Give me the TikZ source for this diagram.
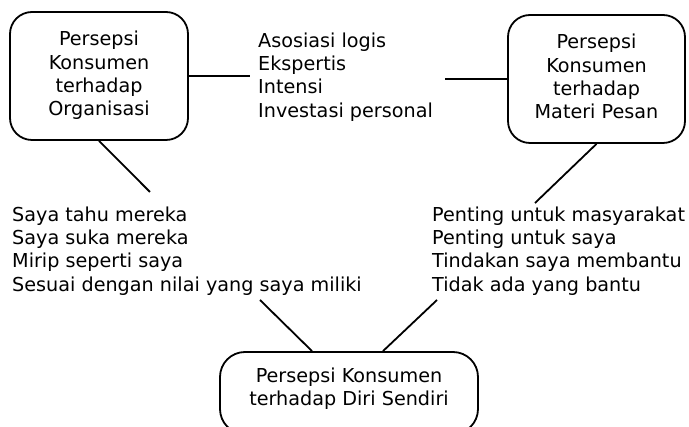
\documentclass[tikz,border=0pt]{standalone}
\usepackage{fontspec}
\setmainfont{DejaVu Sans}
\newcommand{\diagfs}{\fontsize{19.2}{23.3}\selectfont}
\begin{document}
\begin{tikzpicture}[x=1pt,y=-1pt,
  box/.style={draw, line width=1.8pt, align=center, font=\diagfs, inner sep=0pt},
  lst/.style={align=left, anchor=north west, font=\diagfs, inner sep=0pt},
  conn/.style={line width=1.8pt}]
\useasboundingbox (0,0) rectangle (689,427);
\clip (0,0) rectangle (689,427);
% boxes
\node[box, rounded corners=22pt, minimum width=178pt, minimum height=128pt] (tl) at (99,76)
  {\strut Persepsi\\Konsumen\\terhadap\\Organisasi\strut};
\node[box, rounded corners=22pt, minimum width=177pt, minimum height=128pt] (tr) at (596.5,79)
  {\strut Persepsi\\Konsumen\\terhadap\\Materi Pesan\strut};
\node[box, rounded corners=25pt, minimum width=258pt, minimum height=82pt] (bt) at (349,393)
  {\strut Persepsi Konsumen\\terhadap Diri Sendiri\rule[-14.3pt]{0pt}{14.3pt}};
% lists
\node[lst] (mid) at (258,30.7)
  {\strut Asosiasi logis\\Ekspertis\\Intensi\\Investasi personal};
\node[lst] (left) at (12,204.7)
  {\strut Saya tahu mereka\\Saya suka mereka\\Mirip seperti saya\\Sesuai dengan nilai yang saya miliki};
\node[lst] (right) at (432,204.7)
  {\strut Penting untuk masyarakat\\Penting untuk saya\\Tindakan saya membantu\\Tidak ada yang bantu};
% free ends
\coordinate (h1) at (250,76);
\coordinate (h2) at (445,79);
\coordinate (d1) at (150,192);
\coordinate (d2) at (535,203);
\coordinate (b1) at (260,300);
\coordinate (b2) at (437,300);
% connectors
\draw[conn] (tl.east) -- (h1);
\draw[conn] (h2) -- (tr.west);
\draw[conn] (tl.south) -- (d1);
\draw[conn] (tr.south) -- (d2);
\draw[conn] (b1) -- ([xshift=-37pt]bt.north);
\draw[conn] (b2) -- ([xshift=34pt]bt.north);
\end{tikzpicture}
\end{document}
